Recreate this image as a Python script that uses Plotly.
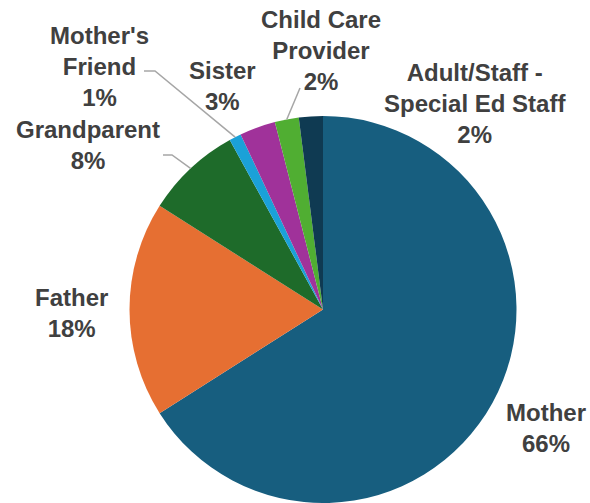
import math
import plotly.graph_objects as go

# Who accompanied the student (share of responses)
categories = ["Mother", "Father", "Grandparent", "Mother's Friend",
              "Sister", "Child Care Provider", "Adult/Staff - Special Ed Staff"]
display_names = ["Mother", "Father", "Grandparent", "Mother's<br>Friend",
                 "Sister", "Child Care<br>Provider", "Adult/Staff -<br>Special Ed Staff"]
percentages = [66, 18, 8, 1, 3, 2, 2]
colors = ["#175E7F", "#E66F32", "#1E6B2A", "#1BA1D8",
          "#A0329A", "#50AE32", "#0F3A52"]

W, H = 590, 503
CX, CY, R = 323, 309.5, 193.5  # pie centre / radius in pixels


def px(x, y):
    return x / W, 1 - y / H


fig = go.Figure(go.Pie(
    labels=categories,
    values=percentages,
    sort=False,
    direction="clockwise",
    rotation=0,
    marker=dict(colors=colors, line=dict(width=0)),
    textinfo="none",
    hovertemplate="%{label}: %{value}%<extra></extra>",
    domain=dict(x=[(CX - R) / W, (CX + R) / W], y=[0, 2 * R / H]),
    showlegend=False,
))

# label centres (pixels)
label_pos = {
    "Mother": (546, 428),
    "Father": (71, 313),
    "Grandparent": (88, 145),
    "Mother's Friend": (99, 66),
    "Sister": (222, 86),
    "Child Care Provider": (321, 51),
    "Adult/Staff - Special Ed Staff": (475, 103),
}

annotations = []
for cat, name, pct in zip(categories, display_names, percentages):
    x, y = px(*label_pos[cat])
    annotations.append(dict(
        x=x, y=y, xref="paper", yref="paper", showarrow=False,
        xanchor="center", yanchor="middle",
        text=f"{name}<br>{pct}%", align="center",
        font=dict(family="Liberation Sans, Arial, sans-serif", size=24,
                  color="#404040", weight="bold"),
    ))


def edge_point(cat):
    i = categories.index(cat)
    total = sum(percentages)
    mid = (sum(percentages[:i]) + percentages[i] / 2) / total
    ang = 2 * math.pi * mid
    return CX + R * math.sin(ang), CY - R * math.cos(ang)


# leader lines: label end -> elbow -> slice edge
leaders = {
    "Mother's Friend": [(144, 71), (155, 71)],
    "Grandparent": [(163, 155), (172, 155)],
    "Child Care Provider": [(300, 88)],
}
shapes = []
for cat, pts in leaders.items():
    pts = pts + [edge_point(cat)]
    path = ""
    for k, (x, y) in enumerate(pts):
        xp, yp = px(x, y)
        path += ("M" if k == 0 else " L") + f" {xp:.5f},{yp:.5f}"
    shapes.append(dict(type="path", path=path, xref="paper", yref="paper",
                       line=dict(color="#A6A6A6", width=1.5)))

fig.update_layout(
    width=W, height=H,
    margin=dict(l=0, r=0, t=0, b=0),
    paper_bgcolor="white",
    plot_bgcolor="white",
    annotations=annotations,
    shapes=shapes,
)

fig.write_html("out.html")
